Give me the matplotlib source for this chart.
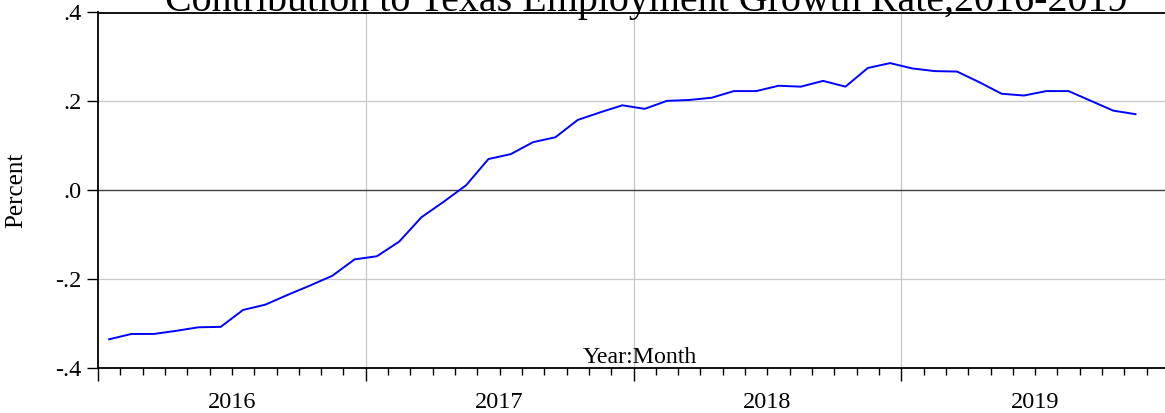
import numpy as np
import matplotlib
matplotlib.use("Agg")
import matplotlib.pyplot as plt
from matplotlib.transforms import blended_transform_factory

plt.rcParams["font.family"] = ["Liberation Serif", "DejaVu Serif"]

# monthly contribution, 2016M01 - 2019M11
years = [2016, 2017, 2018, 2019]
months = [f"{y}M{m:02d}" for y in years for m in range(1, 13)][:47]
contribution = [
    -0.336, -0.324, -0.324, -0.317, -0.309, -0.308, -0.270, -0.258, -0.236, -0.215, -0.193, -0.156,
    -0.149, -0.116, -0.061, -0.026, 0.011, 0.070, 0.081, 0.108, 0.119, 0.158, 0.175, 0.191,
    0.183, 0.201, 0.203, 0.208, 0.223, 0.223, 0.235, 0.233, 0.246, 0.233, 0.275, 0.286,
    0.274, 0.268, 0.267, 0.243, 0.217, 0.213, 0.223, 0.223, 0.201, 0.179, 0.171,
]
ytick_vals = [0.4, 0.2, 0.0, -0.2, -0.4]
ytick_labels = [".4", ".2", ".0", "-.2", "-.4"]

W, H = 1165, 413
fig = plt.figure(figsize=(W / 100, H / 100), dpi=100)
left, right, top, bottom = 98, 1169, 12.5, 367.7
ax = fig.add_axes([left / W, 1 - bottom / H, (right - left) / W, (bottom - top) / H])

x = np.arange(len(months)) + 0.5
ax.plot(x, contribution, color="#0000ff", linewidth=1.4, zorder=3)

ax.set_xlim(0, 48)
ax.set_ylim(-0.4, 0.4)

# grid
for yv in [0.2, -0.2]:
    ax.axhline(yv, color="#c8c8c8", linewidth=0.9, zorder=1)
ax.axhline(0, color="#404040", linewidth=1.0, zorder=2)
for xb in [12, 24, 36]:
    ax.axvline(xb, color="#c8c8c8", linewidth=0.9, zorder=1)

for s in ["top", "left", "bottom"]:
    ax.spines[s].set_color("black")
    ax.spines[s].set_linewidth(1.3)
ax.spines["right"].set_visible(False)

ax.set_yticks(ytick_vals)
ax.set_yticklabels(ytick_labels, fontsize=17.5)
ax.tick_params(axis="y", direction="out", length=8, width=1, pad=4)

ax.set_xticks([0, 12, 24, 36, 48])
ax.set_xticklabels([])
ax.set_xticks(np.arange(0, 49), minor=True)
ax.tick_params(axis="x", which="major", direction="out", length=9, width=1)
ax.tick_params(axis="x", which="minor", direction="out", length=5, width=1)

trans = blended_transform_factory(ax.transData, ax.transAxes)
for i, yr in enumerate(years):
    ax.annotate(str(yr), xy=(i * 12 + 6, 0), xycoords=trans,
                xytext=(0, -40), textcoords="offset pixels",
                ha="center", va="baseline", fontsize=17.5)

fig.text(646 / W, 1 - 11.5 / H, "Contribution to Texas Employment Growth Rate,2016-2019",
         ha="center", va="baseline", fontsize=28.8)
fig.text(640 / W, 1 - 363 / H, "Year:Month", ha="center", va="baseline", fontsize=17.2)
fig.text(16.5 / W, 1 - 190 / H, "Percent", ha="center", va="center",
         rotation=90, fontsize=18)

fig.savefig("out.png", dpi=100)
